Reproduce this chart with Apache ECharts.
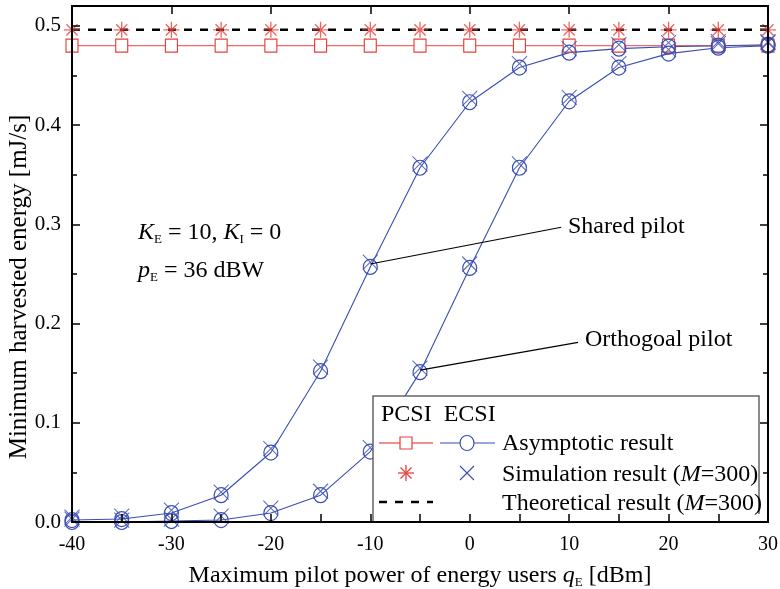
<!DOCTYPE html>
<html><head><meta charset="utf-8">
<script src="https://cdn.jsdelivr.net/npm/echarts@6/dist/echarts.min.js"></script>
<style>html,body{margin:0;padding:0;background:#fff}#c{width:780px;height:589px}</style>
</head><body><div id="c"></div>
<script>
// ---- data ----
const xValues = [-40,-35,-30,-25,-20,-15,-10,-5,0,5,10,15,20,25,30];
const pcsiAsym = [0.480,0.480,0.480,0.480,0.480,0.480,0.480,0.480,0.480,0.480,0.480,0.480,0.480,0.480,0.480];
const pcsiSim  = [0.496,0.496,0.496,0.496,0.496,0.496,0.496,0.496,0.496,0.496,0.496,0.496,0.496,0.496,0.496];
const theoretical = 0.496;
const sharedAsym = [0.002,0.003,0.009,0.027,0.070,0.152,0.257,0.357,0.423,0.458,0.473,0.477,0.479,0.480,0.481];
const sharedSim  = [0.005,0.006,0.012,0.030,0.074,0.156,0.262,0.361,0.427,0.462,0.477,0.481,0.483,0.484,0.484];
const orthoAsym  = [0.000,0.000,0.001,0.002,0.009,0.027,0.071,0.151,0.256,0.357,0.424,0.458,0.472,0.478,0.480];
const orthoSim   = [0.003,0.002,0.003,0.006,0.014,0.031,0.075,0.155,0.260,0.361,0.428,0.462,0.476,0.482,0.483];
const yTicks = [0.0,0.1,0.2,0.3,0.4,0.5];

const pair = arr => xValues.map((x,i)=>[x,arr[i]]);
const RED = '#e8403a', RED_LINE = '#f06a66', BLUE = '#3a4db3', FONT = 'Liberation Serif';
const asterisk = 'path://M0,-10L0,10M-10,0L10,0M-7,-7L7,7M-7,7L7,-7';
const cross = 'path://M-10,-10L10,10M-10,10L10,-10';

const chart = echarts.init(document.getElementById('c'), null, {renderer:'canvas'});
const axisCommon = {
  axisLine:{show:true,onZero:false,lineStyle:{color:'#000',width:2}},
  splitLine:{show:false}
};
const option = {
  animation:false,
  backgroundColor:'#fff',
  grid:{left:72,right:12,top:6,bottom:67,containLabel:false,outerBoundsMode:'none'},
  xAxis:[
    Object.assign({type:'value',min:-40,max:30,interval:10,position:'bottom',z:10,
      axisTick:{inside:true,length:8,lineStyle:{color:'#000',width:1.5}},
      minorTick:{show:true,splitNumber:2,length:8,lineStyle:{color:'#000',width:1.5}},
      axisLabel:{color:'#000',fontFamily:FONT,fontSize:20,margin:13},
      name:'Maximum pilot power of energy users {i|q}{s|E} [dBm]',
      nameLocation:'middle',nameGap:40,
      nameTextStyle:{color:'#000',fontFamily:FONT,fontSize:24,
        rich:{i:{fontFamily:FONT,fontSize:24,fontStyle:'italic',color:'#000'},
              s:{fontFamily:FONT,fontSize:13,color:'#000',verticalAlign:'bottom',padding:[14,0,0,0]}}}
    },axisCommon),
    Object.assign({type:'value',min:-40,max:30,interval:10,position:'top',z:10,
      axisTick:{inside:true,length:8,lineStyle:{color:'#000',width:1.5}},
      axisLabel:{show:false}},axisCommon)
  ],
  yAxis:[
    Object.assign({type:'value',min:0,max:0.52,interval:0.1,position:'left',z:10,
      axisTick:{inside:true,length:8,lineStyle:{color:'#000',width:1.5}},
      minorTick:{show:true,splitNumber:2,length:5,lineStyle:{color:'#000',width:1.5}},
      axisLabel:{color:'#000',fontFamily:FONT,fontSize:21,margin:11,
        formatter:v=>{const t=yTicks.find(k=>Math.abs(k-v)<1e-6);return t===undefined?'':t.toFixed(1);}},
      name:'Minimum harvested energy [mJ/s]',nameLocation:'middle',nameGap:40,nameMoveOverlap:false,
      nameTextStyle:{color:'#000',fontFamily:FONT,fontSize:25,padding:[0,46,0,0]}
    },axisCommon),
    Object.assign({type:'value',min:0,max:0.52,interval:0.1,position:'right',z:10,
      axisTick:{inside:true,length:8,lineStyle:{color:'#000',width:1.5}},
      minorTick:{show:true,splitNumber:2,length:5,lineStyle:{color:'#000',width:1.5}},
      axisLabel:{show:false}},axisCommon)
  ],
  series:[
    {type:'line',name:'PCSI asym',data:pair(pcsiAsym),symbol:'rect',symbolSize:[12,13],
      lineStyle:{color:RED_LINE,width:1.3},itemStyle:{color:'#fff',borderColor:RED,borderWidth:1.2},z:3},
    {type:'line',name:'Theoretical',data:[[xValues[0],theoretical],[xValues[xValues.length-1],theoretical]],
      showSymbol:false,symbol:'none',lineStyle:{color:'#000',width:2.5,type:[8,8]},z:4},
    {type:'scatter',name:'PCSI sim',data:pair(pcsiSim),symbol:asterisk,symbolSize:16,
      itemStyle:{color:'rgba(0,0,0,0)',borderColor:RED,borderWidth:1.3},z:5},
    {type:'line',name:'Shared asym',data:pair(sharedAsym),symbol:'circle',symbolSize:[14,15],
      lineStyle:{color:BLUE,width:1.1},itemStyle:{color:'rgba(255,255,255,0)',borderColor:BLUE,borderWidth:1.2},z:3,
      markLine:{silent:true,symbol:['none','arrow'],symbolSize:[0,11],
        lineStyle:{color:'#000',width:1.2,type:'solid'},label:{show:false},
        data:[
          [{coord:[-10,0.26]},{coord:[9.2,0.297]}],
          [{coord:[-5,0.153]},{coord:[10.9,0.181]}]
        ]}},
    {type:'scatter',name:'Shared sim',data:pair(sharedSim),symbol:cross,symbolSize:15,
      itemStyle:{color:'rgba(0,0,0,0)',borderColor:BLUE,borderWidth:1.1},z:4},
    {type:'line',name:'Ortho asym',data:pair(orthoAsym),symbol:'circle',symbolSize:[14,15],
      lineStyle:{color:BLUE,width:1.1},itemStyle:{color:'rgba(255,255,255,0)',borderColor:BLUE,borderWidth:1.2},z:3},
    {type:'scatter',name:'Ortho sim',data:pair(orthoSim),symbol:cross,symbolSize:15,
      itemStyle:{color:'rgba(0,0,0,0)',borderColor:BLUE,borderWidth:1.1},z:4}
  ],
  graphic:[
    {type:'text',left:138,top:221,z:6,style:{
      text:'{i|K}{s|E}{n| = 10, }{i|K}{s|I}{n| = 0}',
      rich:{i:{fontFamily:FONT,fontSize:24,fontStyle:'italic',fill:'#000'},
            n:{fontFamily:FONT,fontSize:24,fill:'#000'},
            s:{fontFamily:FONT,fontSize:13,fill:'#000',padding:[14,0,0,0]}}}},
    {type:'text',left:138,top:259,z:6,style:{
      text:'{i|p}{s|E}{n| = 36 dBW}',
      rich:{i:{fontFamily:FONT,fontSize:24,fontStyle:'italic',fill:'#000'},
            n:{fontFamily:FONT,fontSize:24,fill:'#000'},
            s:{fontFamily:FONT,fontSize:13,fill:'#000',padding:[14,0,0,0]}}}},
    {type:'text',left:568,top:215,z:6,style:{text:'Shared pilot',font:'24px "Liberation Serif"',fill:'#000'}},
    {type:'text',left:585,top:328,z:6,style:{text:'Orthogoal pilot',font:'24px "Liberation Serif"',fill:'#000'}},
    // legend box
    {type:'group',z:6,children:[
      {type:'rect',shape:{x:373,y:396,width:386,height:118},style:{fill:'#fff',stroke:'none'},z:6},
      {type:'polyline',shape:{points:[[373,522],[373,396],[759,396],[759,514]]},style:{stroke:'#666',lineWidth:1.5,fill:null},z:7},
      {type:'text',x:381,y:403,z:7,style:{text:'PCSI  ECSI',font:'24px "Liberation Serif"',fill:'#000'}},
      {type:'line',shape:{x1:379,y1:443,x2:433,y2:443},style:{stroke:RED_LINE,lineWidth:1.3},z:7},
      {type:'rect',shape:{x:400,y:437,width:12,height:12},style:{fill:'#fff',stroke:RED,lineWidth:1.2},z:8},
      {type:'line',shape:{x1:440,y1:443,x2:495,y2:443},style:{stroke:BLUE,lineWidth:1.1},z:7},
      {type:'ellipse',shape:{cx:467,cy:443,rx:7,ry:7.5},style:{fill:'#fff',stroke:BLUE,lineWidth:1.2},z:8},
      {type:'text',x:502,y:432,z:7,style:{text:'Asymptotic result',font:'24px "Liberation Serif"',fill:'#000'}},
      {type:'line',shape:{x1:406,y1:465,x2:406,y2:481},style:{stroke:RED,lineWidth:1.3},z:7},
      {type:'line',shape:{x1:398,y1:473,x2:414,y2:473},style:{stroke:RED,lineWidth:1.3},z:7},
      {type:'line',shape:{x1:400.5,y1:467.5,x2:411.5,y2:478.5},style:{stroke:RED,lineWidth:1.3},z:7},
      {type:'line',shape:{x1:400.5,y1:478.5,x2:411.5,y2:467.5},style:{stroke:RED,lineWidth:1.3},z:7},
      {type:'line',shape:{x1:460,y1:466,x2:474,y2:480},style:{stroke:BLUE,lineWidth:1.1},z:7},
      {type:'line',shape:{x1:460,y1:480,x2:474,y2:466},style:{stroke:BLUE,lineWidth:1.1},z:7},
      {type:'text',x:502,y:463,z:7,style:{text:'Simulation result ({i|M}=300)',font:'24px "Liberation Serif"',fill:'#000',
        rich:{i:{font:'italic 24px "Liberation Serif"',fill:'#000'}}}},
      {type:'line',shape:{x1:379,y1:502,x2:433,y2:502},style:{stroke:'#000',lineWidth:2.5,lineDash:[8,8]},z:7},
      {type:'text',x:502,y:492,z:7,style:{text:'Theoretical result ({i|M}=300)',font:'24px "Liberation Serif"',fill:'#000',
        rich:{i:{font:'italic 24px "Liberation Serif"',fill:'#000'}}}}
    ]}
  ]
};
chart.setOption(option);
</script></body></html>
